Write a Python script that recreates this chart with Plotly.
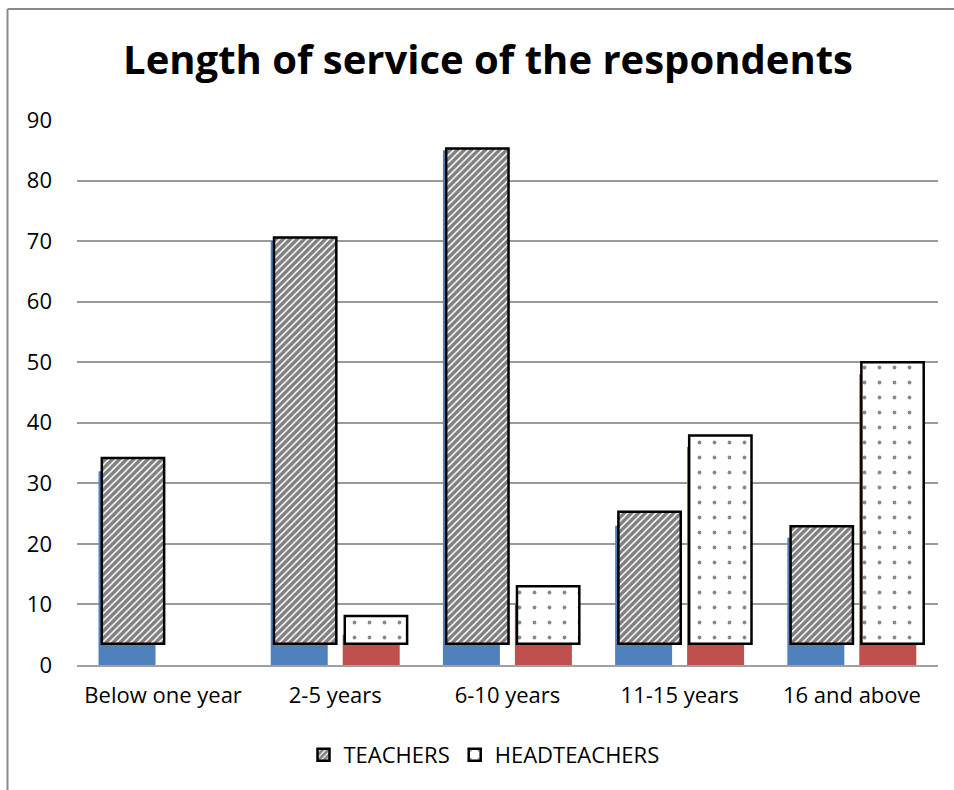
import plotly.graph_objects as go

categories = ["Below one year", "2-5 years", "6-10 years", "11-15 years", "16 and above"]
teachers = [32, 70, 85, 23, 21]
headteachers = [0, 5, 10, 36, 48]
# front overlay boxes (drawn shapes in the original), top values and common base
teachers_box_top = [34.2, 70.6, 85.3, 25.3, 22.9]
headteachers_box_top = [None, 8.1, 13.0, 37.9, 50.0]
box_base = 3.5
y_ticks = [0, 10, 20, 30, 40, 50, 60, 70, 80, 90]

FONT = "Open Sans"
BLUE = "#4F81BD"
RED = "#C0504D"

fig = go.Figure()

fig.add_trace(go.Bar(x=categories, y=teachers, marker=dict(color=BLUE, line=dict(width=0)),
                     offset=-0.375, width=0.331, showlegend=False, hoverinfo="skip"))
fig.add_trace(go.Bar(x=categories, y=headteachers, marker=dict(color=RED, line=dict(width=0)),
                     offset=0.043, width=0.331, showlegend=False, hoverinfo="skip"))

t_h = [t - box_base for t in teachers_box_top]
h_h = [None if t is None else t - box_base for t in headteachers_box_top]

fig.add_trace(go.Bar(x=categories, y=t_h, base=box_base, name="TEACHERS",
                     offset=-0.356, width=0.362,
                     marker=dict(color="white",
                                 line=dict(color="black", width=2.5),
                                 pattern=dict(shape="/", size=5, solidity=0.7,
                                              fgcolor="black", bgcolor="white"))))
fig.add_trace(go.Bar(x=categories, y=h_h, base=box_base, name="HEADTEACHERS",
                     offset=0.055, width=0.362,
                     marker=dict(color="white",
                                 line=dict(color="black", width=2.5),
                                 pattern=dict(shape=".", size=15, solidity=0.05,
                                              fgcolor="#111111", bgcolor="white"))))

L, R, T, B = 77, 16, 120, 125
pw = 954 - L - R
ph = 790 - T - B

fig.update_layout(
    width=954, height=790,
    barmode="overlay",
    plot_bgcolor="white", paper_bgcolor="white",
    margin=dict(l=L, r=R, t=T, b=B),
    title=dict(text="<b>Length of service of the respondents</b>",
               x=488 / 954, xanchor="center", xref="container",
               y=1 - 60 / 790, yanchor="middle",
               font=dict(family=FONT, size=40, color="black")),
    font=dict(family=FONT, size=22, color="black"),
    legend=dict(orientation="h", x=(484 - L) / pw, xanchor="center",
                y=-(755 - 665) / ph, yanchor="middle",
                font=dict(family=FONT, size=22, color="black"),
                itemwidth=30, traceorder="normal"),
    xaxis=dict(showgrid=False, showline=True, linecolor="#a0a0a0", linewidth=2,
               ticks="", tickfont=dict(size=22), ticklabelstandoff=10),
    yaxis=dict(range=[0, 90], tickvals=y_ticks, showgrid=True, gridcolor="#9a9a9a",
               gridwidth=1.5, zeroline=False, ticks="", tickfont=dict(size=22),
               ticklabelstandoff=24, showline=False),
    shapes=[
        dict(type="line", xref="paper", yref="paper",
             x0=(7.5 - L) / pw, x1=(7.5 - L) / pw, y0=(790 - 9 - B) / ph, y1=-B / ph - 0.01,
             line=dict(color="#8a8a8a", width=2)),
        dict(type="line", xref="paper", yref="paper",
             x0=(7.5 - L) / pw, x1=(960 - L) / pw, y0=(790 - 9 - B) / ph, y1=(790 - 9 - B) / ph,
             line=dict(color="#8a8a8a", width=2)),
    ],
)

fig.write_html("out.html")
